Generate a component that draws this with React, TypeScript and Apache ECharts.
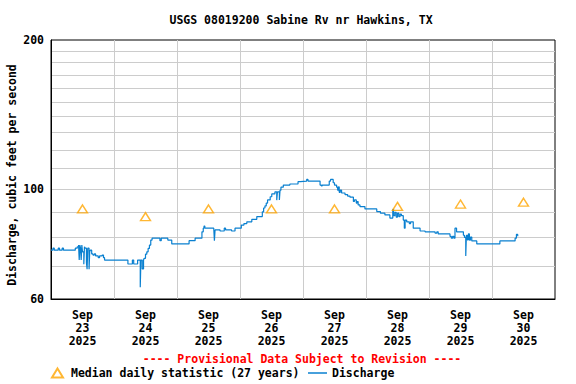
import React, { useEffect, useRef } from "react";
import * as echarts from "echarts";

const titleText = "USGS 08019200 Sabine Rv nr Hawkins, TX";
const noticeText = "---- Provisional Data Subject to Revision ----";
const yAxisTitle = "Discharge, cubic feet per second";
const medianName = "Median daily statistic (27 years)";
const dischargeName = "Discharge";

const dayLabels = [
  "Sep\n23\n2025", "Sep\n24\n2025", "Sep\n25\n2025", "Sep\n26\n2025",
  "Sep\n27\n2025", "Sep\n28\n2025", "Sep\n29\n2025", "Sep\n30\n2025",
];
const yLabelValues = [60, 100, 200];
const yGridValues = [70, 80, 90, 100, 110, 120, 130, 140, 150, 160, 170, 180, 190];

// hours since Sep 23 00:00
const medianHours = [12, 36, 60, 84, 108, 132, 156, 180];
const medianFlow = [91.2, 88.0, 91.2, 91.2, 91.2, 92.3, 93.3, 94.1];

const flowHours = [
  0, 0.75, 1.25, 2.75, 3.25, 4.25, 4.75, 9.25,
  9.5, 10.0, 10.5, 10.75, 11.0, 11.25, 11.5, 11.75, 12.0, 12.5, 12.75, 13.0, 13.5, 13.75, 14.0, 14.5, 14.75, 15.0, 15.5, 16.0, 16.5, 17.0, 18.0, 18.5, 19.5, 20.0, 20.4,
  29.3, 31.0, 31.5, 33.0, 34.0, 34.25, 34.75, 35.25, 35.5, 36.0, 36.5, 37.0, 37.5, 38.0, 38.5,
  41.5, 42.0, 43.5, 44.5, 46.0, 52.6, 54.9, 57.5, 58.0, 58.3, 58.6, 62.0, 62.25, 62.5, 64.4, 66.0, 66.5, 68.8, 70.1,
  72.5, 73.5, 74.6, 76.5, 78.4, 80.5, 81.0, 81.5, 82.0, 82.5, 83.5, 84.1, 85.3, 86.0, 86.25, 87.0, 87.25, 87.6, 88.5, 91.0, 94.1, 95.0, 97.4, 97.9,
  102.5, 103.0, 103.3, 106.0, 106.5, 107.5, 108.0, 108.8, 109.2, 109.5, 109.8, 110.2, 110.7, 112.0, 113.0, 113.9, 115.2, 115.6, 116.3, 116.6, 117.0, 117.7, 119.6,
  124.1, 125.5, 127.2, 129.1, 130.2, 130.5, 131.0, 131.5, 132.0, 132.5, 133.0, 133.5, 134.2, 134.6, 134.9, 135.5, 136.5, 137.0, 138.0, 140.6, 142.5,
  146.3, 147.0, 147.5, 148.2, 152.0, 152.5, 153.0, 153.5, 153.9, 154.5, 157.1, 157.5, 158.0, 158.25, 158.6, 159.0, 159.4, 159.8, 160.3, 162.2, 171.0, 176.8, 177.3, 177.8,
];
const flowValues = [
  75.3, 76.0, 75.3, 76.0, 75.3, 76.0, 75.3, 76.0,
  76.0, 76.5, 77.1, 71.9, 77.1, 76.0, 71.9, 77.1, 74.7, 70.5, 76.5, 76.0, 71.0, 68.9, 76.0, 68.9, 74.7, 75.3, 74.0, 73.6, 74.0, 73.3, 72.7, 73.3, 73.6, 72.7, 71.9,
  70.6, 71.9, 70.6, 71.9, 63.4, 71.9, 69.0, 71.9, 72.5, 73.9, 74.7, 75.9, 77.1, 78.9, 79.6,
  78.7, 79.6, 79.6, 78.9, 77.5, 78.7, 79.6, 82.0, 83.4, 84.2, 83.4, 83.4, 78.7, 82.7, 82.3, 83.4, 82.7, 82.3, 83.4,
  84.6, 85.2, 85.9, 86.9, 88.0, 90.0, 91.6, 92.5, 93.7, 95.1, 96.5, 97.8, 98.7, 95.0, 98.7, 95.1, 99.5, 100.9, 101.9, 102.4, 103.5, 103.8, 104.6, 103.8,
  101.9, 101.5, 101.9, 103.8, 104.6, 103.0, 101.9, 100.9, 99.5, 101.0, 98.5, 99.5, 98.2, 97.5, 96.8, 96.3, 94.4, 95.1, 93.7, 94.4, 92.9, 92.2, 91.2,
  90.1, 89.4, 88.7, 87.4, 91.0, 88.4, 89.8, 87.8, 89.4, 88.0, 89.0, 88.4, 86.6, 83.4, 86.6, 85.9, 85.2, 85.9, 83.4, 82.3, 82.0,
  81.5, 82.0, 81.2, 81.2, 80.3, 79.6, 80.3, 79.6, 83.4, 82.0, 80.7, 79.9, 73.3, 80.7, 79.0, 81.2, 78.9, 80.0, 78.6, 77.5, 78.6, 79.6, 81.0, 80.3,
];

const FONT = "'DejaVu Sans Mono', 'Liberation Mono', monospace";
const lg = (v: number) => Math.log10(v);

export default function App() {
  const ref = useRef<HTMLDivElement>(null);
  useEffect(() => {
    if (!ref.current) return;
    const chart = echarts.init(ref.current, undefined, { renderer: "svg" });
    const textBase = { fontFamily: FONT, fontWeight: "bold" as const, fontSize: 11.5, color: "#000" };
    chart.setOption({
      animation: false,
      backgroundColor: "#fff",
      title: [
        { text: titleText, left: 301, top: 14, textAlign: "center", padding: 0, textStyle: { ...textBase } },
        { text: noticeText, left: 302, top: 353, textAlign: "center", padding: 0, textStyle: { ...textBase, color: "#ff0000" } },
      ],
      graphic: [
        {
          type: "text", x: 12, y: 175, rotation: Math.PI / 2,
          style: { text: yAxisTitle, font: `bold 11.5px ${FONT}`, fill: "#000", align: "center", verticalAlign: "middle" },
        },
      ],
      legend: [
        {
          left: 51, top: 367, padding: 0, itemWidth: 11, itemHeight: 9,
          textStyle: { ...textBase, padding: [0, 0, 0, 3] },
          data: [{ name: medianName, icon: "triangle" }],
        },
        {
          left: 308, top: 367, padding: 0, itemWidth: 19, itemHeight: 1.5,
          textStyle: { ...textBase },
          data: [{ name: dischargeName, icon: "rect" }],
        },
      ],
      grid: { left: 51, top: 40, width: 504, height: 259, show: true, borderColor: "#000", borderWidth: 1, backgroundColor: "transparent" },
      xAxis: [
        {
          type: "value", min: 0, max: 192, interval: 24, position: "bottom",
          axisLine: { show: true, lineStyle: { color: "#000", width: 1 } },
          axisTick: { show: false }, axisLabel: { show: false },
          splitLine: { show: true, showMinLine: false, showMaxLine: false, lineStyle: { color: "#cccccc", width: 1 } },
        },
        {
          type: "category", data: dayLabels, position: "bottom", boundaryGap: true,
          axisLine: { show: false }, axisTick: { show: false }, splitLine: { show: false },
          axisLabel: { ...textBase, margin: 9, lineHeight: 13, interval: 0 },
        },
      ],
      yAxis: {
        type: "value", min: lg(60), max: lg(200),
        axisLine: { show: true, lineStyle: { color: "#000", width: 1 } },
        axisTick: { show: false, customValues: yGridValues.map(lg) },
        axisLabel: {
          ...textBase, margin: 7, customValues: yLabelValues.map(lg),
          formatter: (v: number) => String(Math.round(Math.pow(10, v))),
        },
        splitLine: { show: true, lineStyle: { color: "#cccccc", width: 1 } },
      },
      series: [
        {
          name: medianName, type: "scatter", xAxisIndex: 0,
          symbol: "triangle", symbolSize: [10, 8], symbolKeepAspect: true,
          itemStyle: { color: "rgba(0,0,0,0)", borderColor: "#ffa500", borderWidth: 1.4 },
          data: medianHours.map((h, i) => [h, lg(medianFlow[i])]),
          z: 3,
        },
        {
          name: dischargeName, type: "line", xAxisIndex: 0, step: "end",
          symbol: "none", showSymbol: false,
          lineStyle: { color: "#0a80d0", width: 1.2 },
          itemStyle: { color: "#0a80d0" },
          data: flowHours.map((h, i) => [h, lg(flowValues[i])]),
          z: 2,
        },
      ],
    });
    return () => chart.dispose();
  }, []);
  return <div ref={ref} style={{ position: "fixed", left: 0, top: 0, width: 576, height: 384 }} />;
}
